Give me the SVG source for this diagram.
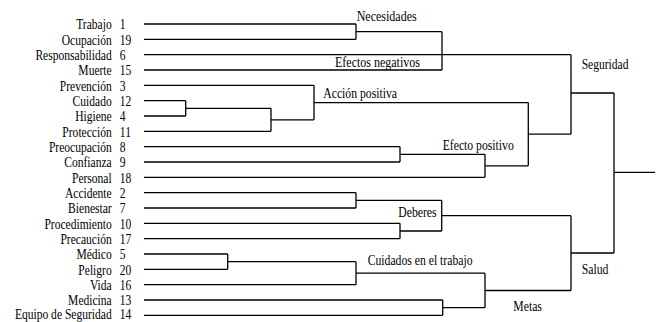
<svg xmlns="http://www.w3.org/2000/svg" width="658" height="322" viewBox="0 0 658 322">
<style>
text{font-family:"Liberation Serif","Times New Roman",serif;font-size:15px;fill:#000}
.lbl{text-anchor:end}
.cn{fill:none;stroke:#000;stroke-width:1.3}
</style>
<rect width="658" height="322" fill="#fff"/>
<g id="leaves">
<g id="n1"><text class="lbl" transform="matrix(0.77 0 0 1 111.7 29.3)">Trabajo</text><text transform="matrix(0.77 0 0 1 119.8 29.3)">1</text></g>
<g id="n19"><text class="lbl" transform="matrix(0.77 0 0 1 111.7 44.6)">Ocupación</text><text transform="matrix(0.77 0 0 1 119.8 44.6)">19</text></g>
<g id="n6"><text class="lbl" transform="matrix(0.77 0 0 1 111.7 60)">Responsabilidad</text><text transform="matrix(0.77 0 0 1 119.8 60)">6</text></g>
<g id="n15"><text class="lbl" transform="matrix(0.77 0 0 1 111.7 75.3)">Muerte</text><text transform="matrix(0.77 0 0 1 119.8 75.3)">15</text></g>
<g id="n3"><text class="lbl" transform="matrix(0.77 0 0 1 111.7 90.6)">Prevención</text><text transform="matrix(0.77 0 0 1 119.8 90.6)">3</text></g>
<g id="n12"><text class="lbl" transform="matrix(0.77 0 0 1 111.7 106)">Cuidado</text><text transform="matrix(0.77 0 0 1 119.8 106)">12</text></g>
<g id="n4"><text class="lbl" transform="matrix(0.77 0 0 1 111.7 121.3)">Higiene</text><text transform="matrix(0.77 0 0 1 119.8 121.3)">4</text></g>
<g id="n11"><text class="lbl" transform="matrix(0.77 0 0 1 111.7 136.6)">Protección</text><text transform="matrix(0.77 0 0 1 119.8 136.6)">11</text></g>
<g id="n8"><text class="lbl" transform="matrix(0.77 0 0 1 111.7 152)">Preocupación</text><text transform="matrix(0.77 0 0 1 119.8 152)">8</text></g>
<g id="n9"><text class="lbl" transform="matrix(0.77 0 0 1 111.7 167.3)">Confianza</text><text transform="matrix(0.77 0 0 1 119.8 167.3)">9</text></g>
<g id="n18"><text class="lbl" transform="matrix(0.77 0 0 1 111.7 182.6)">Personal</text><text transform="matrix(0.77 0 0 1 119.8 182.6)">18</text></g>
<g id="n2"><text class="lbl" transform="matrix(0.77 0 0 1 111.7 198)">Accidente</text><text transform="matrix(0.77 0 0 1 119.8 198)">2</text></g>
<g id="n7"><text class="lbl" transform="matrix(0.77 0 0 1 111.7 213.3)">Bienestar</text><text transform="matrix(0.77 0 0 1 119.8 213.3)">7</text></g>
<g id="n10"><text class="lbl" transform="matrix(0.77 0 0 1 111.7 228.6)">Procedimiento</text><text transform="matrix(0.77 0 0 1 119.8 228.6)">10</text></g>
<g id="n17"><text class="lbl" transform="matrix(0.77 0 0 1 111.7 244)">Precaución</text><text transform="matrix(0.77 0 0 1 119.8 244)">17</text></g>
<g id="n5"><text class="lbl" transform="matrix(0.77 0 0 1 111.7 259.3)">Médico</text><text transform="matrix(0.77 0 0 1 119.8 259.3)">5</text></g>
<g id="n20"><text class="lbl" transform="matrix(0.77 0 0 1 111.7 274.6)">Peligro</text><text transform="matrix(0.77 0 0 1 119.8 274.6)">20</text></g>
<g id="n16"><text class="lbl" transform="matrix(0.77 0 0 1 111.7 290)">Vida</text><text transform="matrix(0.77 0 0 1 119.8 290)">16</text></g>
<g id="n13"><text class="lbl" transform="matrix(0.77 0 0 1 111.7 305)">Medicina</text><text transform="matrix(0.77 0 0 1 119.8 305)">13</text></g>
<g id="n14"><text class="lbl" transform="matrix(0.77 0 0 1 111.7 318.5)">Equipo de Seguridad</text><text transform="matrix(0.77 0 0 1 119.8 318.5)">14</text></g>
</g>
<g id="clusters">
<g id="c-necesidades"><text transform="matrix(0.8 0 0 1 356.7 20.6)">Necesidades</text></g>
<g id="c-efectos-negativos"><text transform="matrix(0.8 0 0 1 335 66.5)">Efectos negativos</text></g>
<g id="c-seguridad"><text transform="matrix(0.77 0 0 1 581.7 69)">Seguridad</text></g>
<g id="c-accion-positiva"><text transform="matrix(0.78 0 0 1 323.3 98.3)">Acción positiva</text></g>
<g id="c-efecto-positivo"><text transform="matrix(0.78 0 0 1 442.7 150)">Efecto positivo</text></g>
<g id="c-deberes"><text transform="matrix(0.78 0 0 1 398.3 216.5)">Deberes</text></g>
<g id="c-cuidados"><text transform="matrix(0.78 0 0 1 367.7 264.5)">Cuidados en el trabajo</text></g>
<g id="c-salud"><text transform="matrix(0.78 0 0 1 581.7 274)">Salud</text></g>
<g id="c-metas"><text transform="matrix(0.78 0 0 1 513.3 310.5)">Metas</text></g>
</g>
<g id="connectors" class="cn">
<path d="M144,24H356M144,39.3H356M356,24V39.3M356,31.7H442M144,70H442M442,31.7V70M144,54.7H571"/>
<path d="M144,85.3H314M144,100.7H185.7M144,116H185.7M185.7,100.7V116M185.7,108.3H271M144,131.3H271M271,108.3V131.3M271,119.8H314M314,85.3V119.8M314,102.6H528.3"/>
<path d="M144,146.7H400M144,162H400M400,146.7V162M400,154.3H485M144,177.3H485M485,154.3V177.3M485,165.8H528.3M528.3,102.6V165.8M528.3,134.2H571M571,54.7V134.2M571,93H614"/>
<path d="M144,192.7H356M144,208H356M356,192.7V208M356,200.3H441.7M144,223.3H400M144,238.7H400M400,223.3V238.7M400,231H441.7M441.7,200.3V231M441.7,215.7H571"/>
<path d="M144,254H227.7M144,269.3H227.7M227.7,254V269.3M227.7,261.7H356M144,284.7H356M356,261.7V284.7M356,273.2H485M144,300H442.7M144,315.3H442.7M442.7,300V315.3M442.7,307.7H485M485,273.2V307.7M485,290.5H571M571,215.7V290.5M571,253H614"/>
<path d="M614,93V253M614,172.3H655"/>
</g>
</svg>
